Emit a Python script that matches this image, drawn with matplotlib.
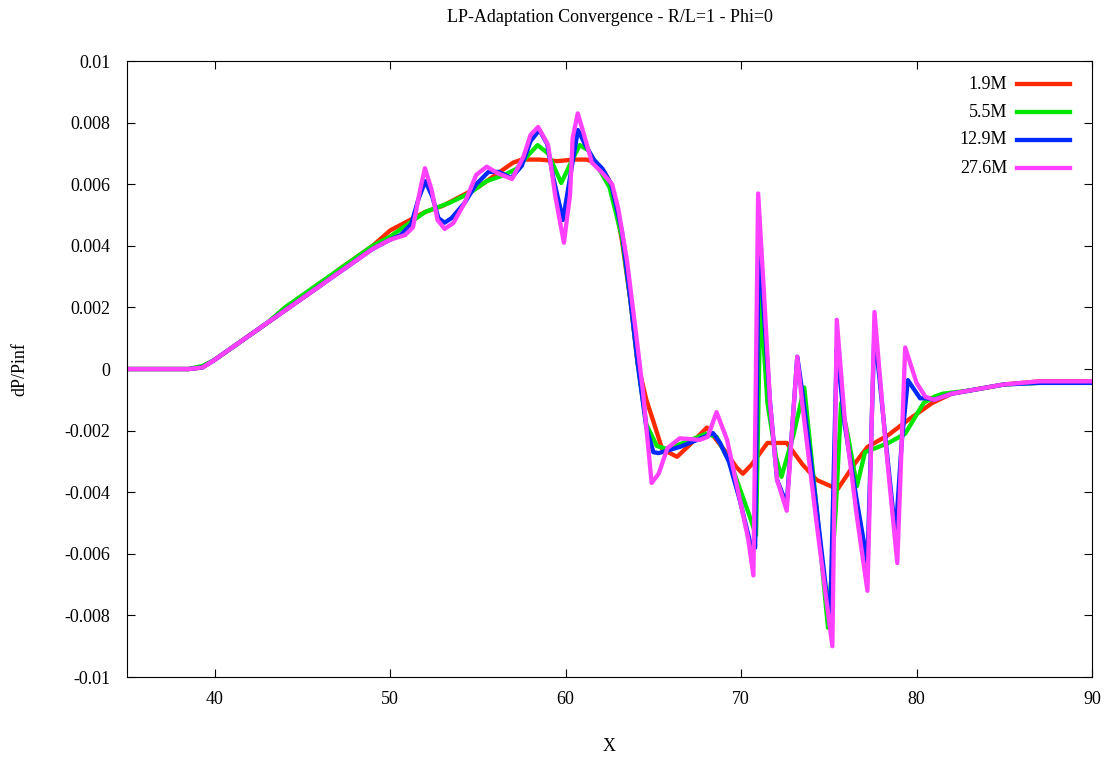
import numpy as np
import matplotlib
matplotlib.use('Agg')
import matplotlib.pyplot as plt

plt.rcParams['font.family'] = ['Liberation Serif', 'DejaVu Serif']

# --- data ---
labels = ['1.9M', '5.5M', '12.9M', '27.6M']
colors = ['#ff2a00', '#00e600', '#0028ff', '#ff40ff']

x_red = [35, 38.5, 39.3, 40, 41, 42, 43, 44, 45, 46, 47, 48, 49, 50, 51, 52, 53, 54, 55, 56, 57,
         57.5, 58.5, 59.5, 60.5, 61.2, 61.7, 62.2, 62.6, 63.2, 63.7, 64.1, 64.6, 65.0, 65.5, 66.35,
         67.0, 68.05, 69.0, 69.75, 70.1, 70.6, 71.5, 72.6, 73.5, 74.3, 75.5, 76.5, 77.2, 78.4, 79.5,
         80.9, 82, 83, 85, 87, 90]
y_red = [0, 0, 0.00005, 0.0003, 0.0007, 0.0011, 0.0015, 0.0019, 0.0023, 0.0027, 0.0032, 0.0036,
         0.0040, 0.0045, 0.0048, 0.0051, 0.0053, 0.0056, 0.0059, 0.0063, 0.0067, 0.0068, 0.0068,
         0.00675, 0.0068, 0.0068, 0.0067, 0.0064, 0.0060, 0.0042, 0.0022, 0.0002, -0.0010, -0.0017,
         -0.0026, -0.00285, -0.0025, -0.0019, -0.0026, -0.0032, -0.0034, -0.0031, -0.0024, -0.0024,
         -0.0031, -0.0036, -0.0039, -0.00305, -0.00253, -0.00214, -0.00166, -0.0011, -0.0008,
         -0.0007, -0.0005, -0.0004, -0.0004]

x_green = [35, 38.5, 39.3, 40, 41, 42, 43, 44, 45, 46, 47, 48, 49, 50, 51, 52, 53.4, 54.5, 55.5,
           56.5, 57.2, 57.8, 58.4, 59.0, 59.75, 60.3, 60.8, 61.3, 61.8, 62.5, 63.2, 63.7, 64.1, 64.6,
           65.2, 65.8, 66.7, 68.0, 68.6, 69.5, 70.5, 70.85, 71.1, 71.5, 72.0, 72.3, 73.0, 73.6, 74.3,
           74.95, 75.4, 75.7, 76.1, 76.6, 77.06, 78.4, 79.35, 80.4, 81.0, 81.5, 83, 85, 87, 90]
y_green = [0, 0, 0.0001, 0.0003, 0.0007, 0.0011, 0.0015, 0.0020, 0.0024, 0.0028, 0.0032, 0.0036,
           0.0040, 0.0043, 0.0047, 0.0051, 0.0054, 0.0057, 0.0061, 0.0063, 0.0065, 0.0069, 0.00727,
           0.0070, 0.00604, 0.0067, 0.00727, 0.0071, 0.0066, 0.0059, 0.0043, 0.0022, 0.0002, -0.0018,
           -0.0025, -0.0026, -0.0024, -0.0021, -0.0022, -0.0032, -0.0048, -0.0054, 0.0024, -0.0011,
           -0.0029, -0.0035, -0.0021, -0.0006, -0.0045, -0.0084, -0.0045, -0.0011, -0.0022, -0.0038,
           -0.0027, -0.0024, -0.0021, -0.0011, -0.0009, -0.0008, -0.0007, -0.0005, -0.00045, -0.00045]

x_blue = [35, 38.5, 39.3, 40, 41, 42, 43, 44, 45, 46, 47, 48, 49, 50, 50.6, 51.2, 51.6, 52.0, 52.4,
          52.75, 53.1, 53.5, 54.25, 54.9, 55.6, 56.2, 56.9, 57.5, 58.0, 58.5, 58.95, 59.3, 59.85,
          60.3, 60.7, 61.1, 61.6, 62.1, 62.6, 63.2, 63.7, 64.1, 64.6, 65.0, 65.3, 66.5, 67.5, 68.4,
          68.8, 69.3, 69.9, 70.5, 70.8, 71.0, 71.3, 71.65, 72.05, 72.6, 72.9, 73.2, 73.5, 74.3, 75.07,
          75.45, 75.9, 76.6, 77.2, 77.6, 78.2, 78.8, 79.15, 79.5, 80.2, 80.6, 81.0, 82, 83, 85, 87, 90]
y_blue = [0, 0, 0.00005, 0.0003, 0.0007, 0.0011, 0.0015, 0.0019, 0.0023, 0.0027, 0.0031, 0.0035,
          0.0039, 0.0042, 0.00435, 0.0047, 0.0055, 0.0061, 0.0056, 0.0049, 0.00475, 0.0049, 0.0054,
          0.0060, 0.0064, 0.0064, 0.0062, 0.0066, 0.0074, 0.00776, 0.0073, 0.0062, 0.00484, 0.0064,
          0.00776, 0.0073, 0.0068, 0.0065, 0.0060, 0.0045, 0.0022, 0.0002, -0.0019, -0.0027,
          -0.00273, -0.00253, -0.0023, -0.00208, -0.0024, -0.0030, -0.0042, -0.0056, -0.0058, 0.0043,
          0.0018, -0.0011, -0.0036, -0.0044, -0.0020, 0.0004, -0.0008, -0.0045, -0.0083, 0.0007,
          -0.0018, -0.0043, -0.0063, 0.0013, -0.0021, -0.0054, -0.0024, -0.00036, -0.00095, -0.00095,
          -0.0010, -0.0008, -0.0007, -0.0005, -0.00045, -0.00045]

x_mag = [35, 38.5, 39.3, 40, 41, 42, 43, 44, 45, 46, 47, 48, 49, 50, 50.85, 51.3, 51.7, 51.98,
         52.37, 52.7, 53.1, 53.6, 54.25, 54.9, 55.5, 56.15, 56.95, 57.6, 58.0, 58.43, 59.0, 59.4,
         59.9, 60.25, 60.4, 60.69, 61.0, 61.5, 62.1, 62.65, 63.0, 63.5, 64.0, 64.4, 64.9, 65.3, 65.8,
         66.5, 67.65, 68.1, 68.6, 69.2, 69.8, 70.4, 70.7, 70.97, 71.3, 71.65, 72.05, 72.6, 72.9,
         73.2, 73.5, 74.3, 75.2, 75.45, 75.9, 76.6, 77.2, 77.6, 78.2, 78.9, 79.35, 80.0, 80.5, 81.0,
         82, 83, 85, 87, 90]
y_mag = [0, 0, 0.00005, 0.0003, 0.0007, 0.0011, 0.0015, 0.0019, 0.0023, 0.0027, 0.0031, 0.0035,
         0.0039, 0.0042, 0.00435, 0.0046, 0.0058, 0.00652, 0.0058, 0.00484, 0.00455, 0.00474,
         0.0054, 0.0063, 0.00657, 0.00635, 0.00617, 0.0069, 0.0076, 0.00786, 0.00727, 0.00565,
         0.0041, 0.00565, 0.0075, 0.0083, 0.0077, 0.0067, 0.00636, 0.0060, 0.0052, 0.0035, 0.0012,
         -0.0007, -0.0037, -0.0034, -0.00257, -0.00225, -0.0023, -0.0022, -0.0014, -0.0023, -0.0039,
         -0.0055, -0.0067, 0.0057, 0.0025, -0.0011, -0.0036, -0.0046, -0.0020, 0.0004, -0.0012,
         -0.0050, -0.0090, 0.0016, -0.0016, -0.0048, -0.0072, 0.00185, -0.0022, -0.0063, 0.0007,
         -0.00045, -0.0009, -0.0010, -0.0008, -0.0007, -0.0005, -0.0004, -0.0004]

series_x = [x_red, x_green, x_blue, x_mag]
series_y = [y_red, y_green, y_blue, y_mag]

x_ticks = [40, 50, 60, 70, 80, 90]
y_ticks = [-0.01, -0.008, -0.006, -0.004, -0.002, 0, 0.002, 0.004, 0.006, 0.008, 0.01]
y_ticklabels = ['-0.01', '-0.008', '-0.006', '-0.004', '-0.002', '0',
                '0.002', '0.004', '0.006', '0.008', '0.01']

fig = plt.figure(figsize=(11.07, 7.59), dpi=100)
ax = fig.add_axes([0.1147, 0.108, 0.8718, 0.8116])

for xs, ys, c in zip(series_x, series_y, colors):
    ax.plot(xs, ys, color=c, lw=3.1, solid_joinstyle='round', solid_capstyle='round')

ax.set_xlim(35, 90)
ax.set_ylim(-0.01, 0.01)
ax.set_xticks(x_ticks)
ax.set_yticks(y_ticks)
ax.set_yticklabels(y_ticklabels)
ax.tick_params(direction='in', length=6, width=0.8, top=True, right=True, labelsize=13)
ax.tick_params(axis='y', pad=12)
ax.tick_params(axis='x', pad=10)
for s in ax.spines.values():
    s.set_linewidth(0.8)

ax.set_title('LP-Adaptation Convergence - R/L=1 - Phi=0', fontsize=13, pad=28)
ax.set_xlabel('X', fontsize=13, labelpad=22)
ax.set_ylabel('dP/Pinf', fontsize=13, labelpad=26)

# gnuplot-style key: label right-aligned, sample line to the right
rows = [0.9627, 0.917, 0.872, 0.826]
for lab, c, ry in zip(labels, colors, rows):
    ax.plot([0.922, 0.977], [ry, ry], color=c, lw=3.1, transform=ax.transAxes)
    ax.text(0.912, ry, lab, transform=ax.transAxes, ha='right', va='center', fontsize=13)

plt.savefig('out.png', dpi=100)
